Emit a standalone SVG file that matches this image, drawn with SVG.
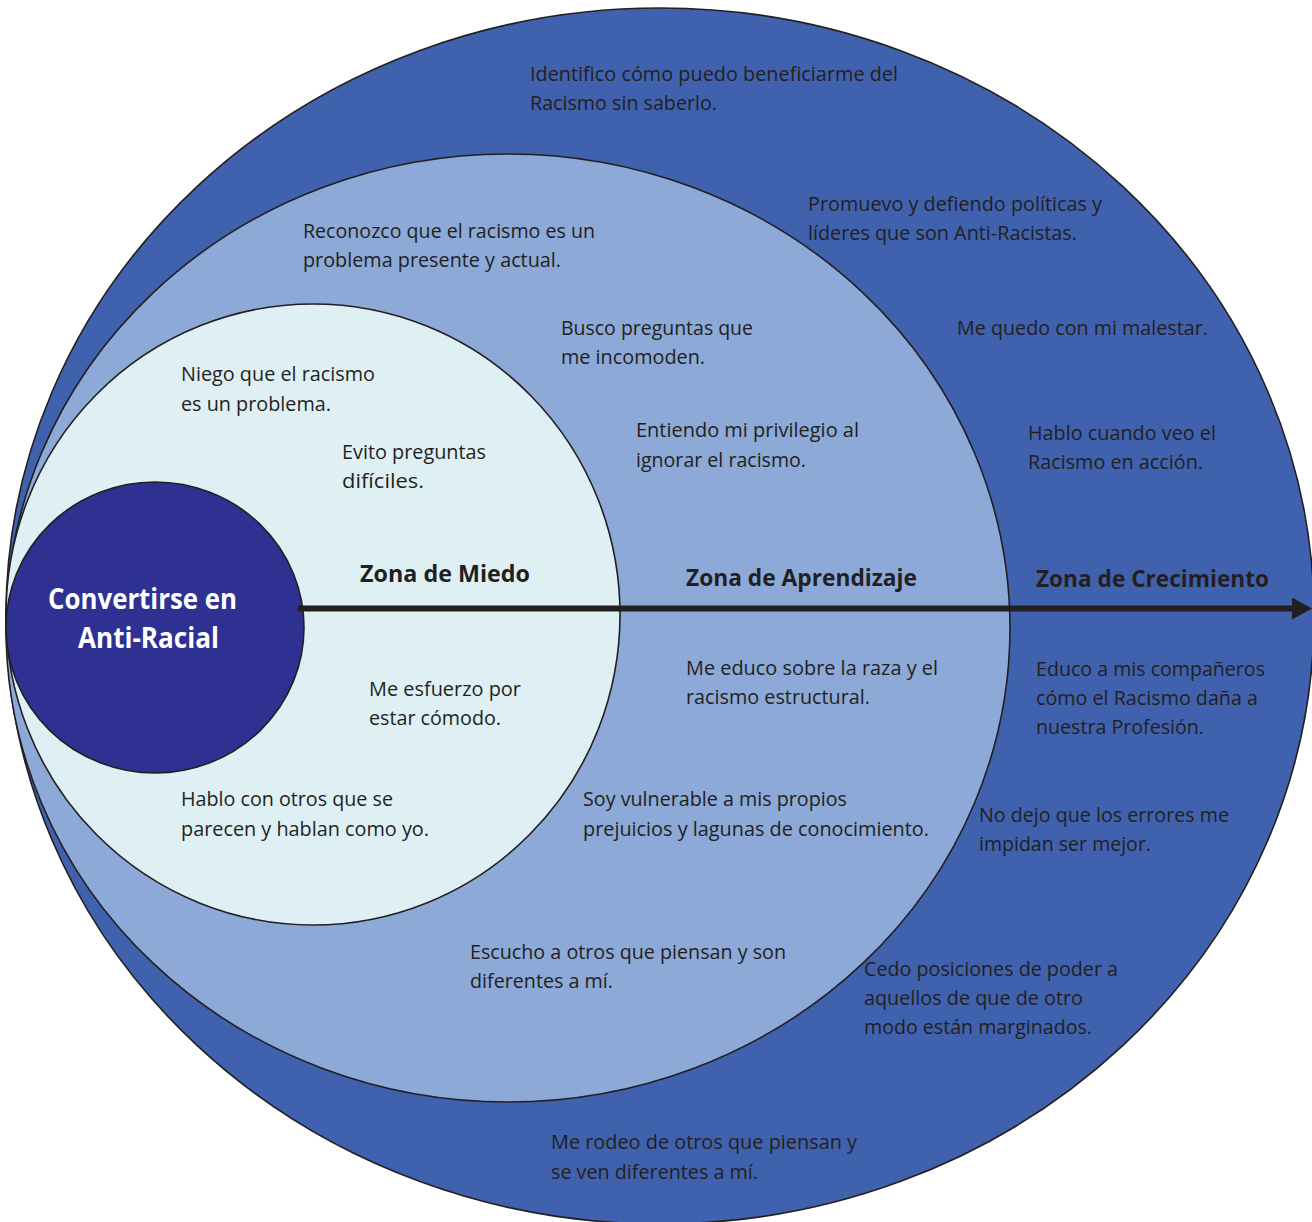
<svg xmlns="http://www.w3.org/2000/svg" width="1312" height="1222" viewBox="0 0 1312 1222">
  <style>
    .zone { stroke: #231F20; stroke-width: 1.6; }
    .t { font-family: "Open Sans", "Noto Sans", "Liberation Sans", sans-serif; font-size: 20px; fill: #231F20; }
    .h { font-family: "Open Sans", "Noto Sans", "Liberation Sans", sans-serif; font-size: 23px; font-weight: bold; fill: #231F20; }
    .c { font-family: "Open Sans", "Noto Sans", "Liberation Sans", sans-serif; font-size: 28px; font-weight: bold; fill: #FFFFFF; }
  </style>
  <defs>
    <marker id="arrowhead" markerUnits="userSpaceOnUse" markerWidth="20" markerHeight="22" viewBox="0 0 20 22" refX="0" refY="11" orient="auto">
      <polygon points="0,0 20,11 0,22" fill="#231F20"/>
    </marker>
  </defs>
  <rect width="1312" height="1222" fill="#FFFFFF"/>

  <g id="zona-crecimiento">
    <ellipse class="zone" cx="660" cy="616" rx="654" ry="608" fill="#4061AE"/>
    <text class="t" x="530" y="81" textLength="368" lengthAdjust="spacingAndGlyphs">Identifico cómo puedo beneficiarme del</text>
    <text class="t" x="530" y="110" textLength="187" lengthAdjust="spacingAndGlyphs">Racismo sin saberlo.</text>
    <text class="t" x="808" y="211" textLength="294" lengthAdjust="spacingAndGlyphs">Promuevo y defiendo políticas y</text>
    <text class="t" x="808" y="240" textLength="269" lengthAdjust="spacingAndGlyphs">líderes que son Anti-Racistas.</text>
    <text class="t" x="957" y="335" textLength="251" lengthAdjust="spacingAndGlyphs">Me quedo con mi malestar.</text>
    <text class="t" x="1028" y="440" textLength="188" lengthAdjust="spacingAndGlyphs">Hablo cuando veo el</text>
    <text class="t" x="1028" y="469" textLength="175" lengthAdjust="spacingAndGlyphs">Racismo en acción.</text>
    <text class="t" x="1036" y="676" textLength="229" lengthAdjust="spacingAndGlyphs">Educo a mis compañeros</text>
    <text class="t" x="1036" y="705" textLength="222" lengthAdjust="spacingAndGlyphs">cómo el Racismo daña a</text>
    <text class="t" x="1036" y="734" textLength="168" lengthAdjust="spacingAndGlyphs">nuestra Profesión.</text>
    <text class="t" x="979" y="822" textLength="250" lengthAdjust="spacingAndGlyphs">No dejo que los errores me</text>
    <text class="t" x="979" y="851" textLength="172" lengthAdjust="spacingAndGlyphs">impidan ser mejor.</text>
    <text class="t" x="864" y="976" textLength="254" lengthAdjust="spacingAndGlyphs">Cedo posiciones de poder a</text>
    <text class="t" x="864" y="1005" textLength="219" lengthAdjust="spacingAndGlyphs">aquellos de que de otro</text>
    <text class="t" x="864" y="1034" textLength="228" lengthAdjust="spacingAndGlyphs">modo están marginados.</text>
    <text class="t" x="551" y="1149" textLength="306" lengthAdjust="spacingAndGlyphs">Me rodeo de otros que piensan y</text>
    <text class="t" x="551" y="1179" textLength="207" lengthAdjust="spacingAndGlyphs">se ven diferentes a mí.</text>
  </g>

  <g id="zona-aprendizaje">
    <ellipse class="zone" cx="508" cy="628" rx="502" ry="474" fill="#8CA9D8"/>
    <text class="t" x="303" y="238" textLength="292" lengthAdjust="spacingAndGlyphs">Reconozco que el racismo es un</text>
    <text class="t" x="303" y="267" textLength="258" lengthAdjust="spacingAndGlyphs">problema presente y actual.</text>
    <text class="t" x="561" y="335" textLength="192" lengthAdjust="spacingAndGlyphs">Busco preguntas que</text>
    <text class="t" x="561" y="364" textLength="144" lengthAdjust="spacingAndGlyphs">me incomoden.</text>
    <text class="t" x="636" y="437" textLength="223" lengthAdjust="spacingAndGlyphs">Entiendo mi privilegio al</text>
    <text class="t" x="636" y="467" textLength="170" lengthAdjust="spacingAndGlyphs">ignorar el racismo.</text>
    <text class="t" x="686" y="675" textLength="252" lengthAdjust="spacingAndGlyphs">Me educo sobre la raza y el</text>
    <text class="t" x="686" y="704" textLength="184" lengthAdjust="spacingAndGlyphs">racismo estructural.</text>
    <text class="t" x="583" y="806" textLength="264" lengthAdjust="spacingAndGlyphs">Soy vulnerable a mis propios</text>
    <text class="t" x="583" y="836" textLength="346" lengthAdjust="spacingAndGlyphs">prejuicios y lagunas de conocimiento.</text>
    <text class="t" x="470" y="959" textLength="316" lengthAdjust="spacingAndGlyphs">Escucho a otros que piensan y son</text>
    <text class="t" x="470" y="988" textLength="143" lengthAdjust="spacingAndGlyphs">diferentes a mí.</text>
  </g>

  <g id="zona-miedo">
    <ellipse class="zone" cx="313" cy="614.5" rx="307" ry="310.5" fill="#DFF0F5"/>
    <text class="t" x="181" y="381" textLength="194" lengthAdjust="spacingAndGlyphs">Niego que el racismo</text>
    <text class="t" x="181" y="411" textLength="150" lengthAdjust="spacingAndGlyphs">es un problema.</text>
    <text class="t" x="342" y="459" textLength="144" lengthAdjust="spacingAndGlyphs">Evito preguntas</text>
    <text class="t" x="342" y="488" textLength="82" lengthAdjust="spacingAndGlyphs">difíciles.</text>
    <text class="t" x="369" y="696" textLength="152" lengthAdjust="spacingAndGlyphs">Me esfuerzo por</text>
    <text class="t" x="369" y="725" textLength="132" lengthAdjust="spacingAndGlyphs">estar cómodo.</text>
    <text class="t" x="181" y="806" textLength="212" lengthAdjust="spacingAndGlyphs">Hablo con otros que se</text>
    <text class="t" x="181" y="836" textLength="248" lengthAdjust="spacingAndGlyphs">parecen y hablan como yo.</text>
  </g>

  <g id="centro">
    <ellipse class="zone" cx="155" cy="627.5" rx="149" ry="145.5" fill="#2E3192"/>
    <text class="c" x="48" y="609" textLength="189" lengthAdjust="spacingAndGlyphs">Convertirse en</text>
    <text class="c" x="78" y="648" textLength="141" lengthAdjust="spacingAndGlyphs">Anti-Racial</text>
  </g>

  <g id="connectors">
    <line x1="298" y1="608.5" x2="1292" y2="608.5" stroke="#231F20" stroke-width="6" marker-end="url(#arrowhead)"/>
  </g>

  <g id="labels">
    <text class="h" x="360" y="582" textLength="170" lengthAdjust="spacingAndGlyphs">Zona de Miedo</text>
    <text class="h" x="686" y="586" textLength="231" lengthAdjust="spacingAndGlyphs">Zona de Aprendizaje</text>
    <text class="h" x="1036" y="587" textLength="233" lengthAdjust="spacingAndGlyphs">Zona de Crecimiento</text>
  </g>
</svg>
